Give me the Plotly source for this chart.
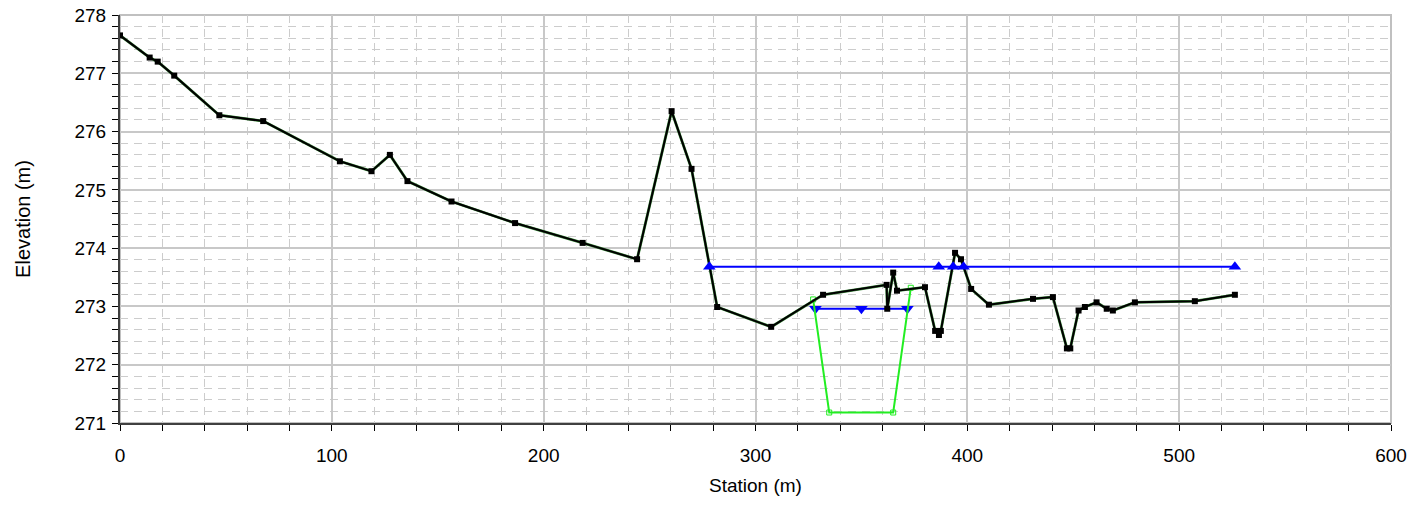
import plotly.graph_objects as go

# Ground profile (station m, elevation m)
ground_x = [0, 14.0, 17.8, 25.6, 46.9, 67.6, 103.8, 118.7, 127.4, 135.7, 156.5, 186.5,
            218.4, 244.1, 260.4, 269.8, 281.9, 307.4, 331.9, 361.9, 362.2, 365.0, 366.8,
            380.0, 384.8, 386.6, 387.5, 394.2, 397.0, 401.8, 410.2, 431.0, 440.4, 447.0,
            448.6, 452.5, 455.5, 461.0, 465.8, 468.7, 479.1, 507.4, 526.3]
ground_y = [277.65, 277.27, 277.20, 276.96, 276.28, 276.18, 275.49, 275.32, 275.60, 275.15,
            274.80, 274.43, 274.09, 273.81, 276.35, 275.36, 272.99, 272.65, 273.20, 273.37,
            272.96, 273.58, 273.27, 273.33, 272.58, 272.51, 272.58, 273.92, 273.81, 273.30,
            273.03, 273.13, 273.16, 272.28, 272.28, 272.93, 272.99, 273.07, 272.96, 272.93,
            273.07, 273.09, 273.20]

# Channel (green)
chan_x = [327.2, 334.8, 365.0, 373.3]
chan_y = [273.12, 271.18, 271.18, 273.32]

# Water surfaces (blue)
ws_up_x = [278.2, 386.5, 393.3, 398.2, 526.3]
ws_up_y = [273.68, 273.68, 273.68, 273.68, 273.68]
ws_dn_x = [328.3, 350.0, 371.7]
ws_dn_y = [272.96, 272.96, 272.96]

x_ticks = [0, 100, 200, 300, 400, 500, 600]
y_ticks = [271, 272, 273, 274, 275, 276, 277, 278]

fig = go.Figure()
fig.add_trace(go.Scatter(x=ws_dn_x, y=ws_dn_y, mode="lines+markers",
                         line=dict(color="#0000ff", width=2),
                         marker=dict(symbol="triangle-down", size=11, color="#0000ff")))
fig.add_trace(go.Scatter(x=chan_x, y=chan_y, mode="lines+markers",
                         line=dict(color="#22ee22", width=2),
                         marker=dict(symbol="square-open", size=5, color="#22ee22")))
fig.add_trace(go.Scatter(x=ground_x, y=ground_y, mode="lines",
                         line=dict(color="#3a8a3a", width=2.8)))
fig.add_trace(go.Scatter(x=ground_x, y=ground_y, mode="lines+markers",
                         line=dict(color="#000000", width=2),
                         marker=dict(symbol="square", size=6, color="#000000")))
fig.add_trace(go.Scatter(x=ws_up_x, y=ws_up_y, mode="lines+markers",
                         line=dict(color="#0000ff", width=2),
                         marker=dict(symbol="triangle-up", size=11, color="#0000ff")))

font_family = "Liberation Sans, Arial, sans-serif"
fig.update_layout(
    width=1411, height=507,
    margin=dict(l=120, r=20, t=15, b=84),
    paper_bgcolor="white", plot_bgcolor="white",
    showlegend=False,
    font=dict(family=font_family, color="#000000", size=18),
)
fig.update_xaxes(
    range=[0, 600], tickvals=x_ticks, ticktext=[str(v) for v in x_ticks],
    automargin=False, ticklabeloverflow="allow",
    showline=True, linecolor="#404040", linewidth=2,
    ticks="outside", ticklen=6, tickcolor="#000000", tickwidth=1,
    showgrid=True, gridcolor="#c8c8c8", gridwidth=2, zeroline=False,
    minor=dict(dtick=20, ticks="outside", ticklen=6, tickcolor="#000000",
               showgrid=True, gridcolor="#cccccc", gridwidth=1, griddash="8px,6px"),
    tickfont=dict(size=19), ticklabelstandoff=8,
    title=dict(text="Station (m)", font=dict(size=19), standoff=14),
)
fig.update_yaxes(
    range=[271, 278], tickvals=y_ticks, ticktext=[str(v) for v in y_ticks],
    automargin=False, ticklabeloverflow="allow",
    showline=True, linecolor="#404040", linewidth=2,
    ticks="outside", ticklen=6, tickcolor="#000000", tickwidth=1,
    showgrid=True, gridcolor="#c8c8c8", gridwidth=2, zeroline=False,
    minor=dict(dtick=0.2, ticks="outside", ticklen=6, tickcolor="#000000",
               showgrid=True, gridcolor="#cccccc", gridwidth=1, griddash="8px,6px"),
    tickfont=dict(size=19), ticklabelstandoff=2,
    title=dict(text="Elevation (m)", font=dict(size=20), standoff=38),
)
# gray border on top/right
fig.add_shape(type="rect", xref="paper", yref="paper", x0=0, x1=1, y0=0, y1=1,
              line=dict(color="#c0c0c0", width=2), layer="below")

fig.write_html("out.html", config={"displayModeBar": False},
               post_script="document.body.style.margin='0';document.body.style.overflow='hidden';")
